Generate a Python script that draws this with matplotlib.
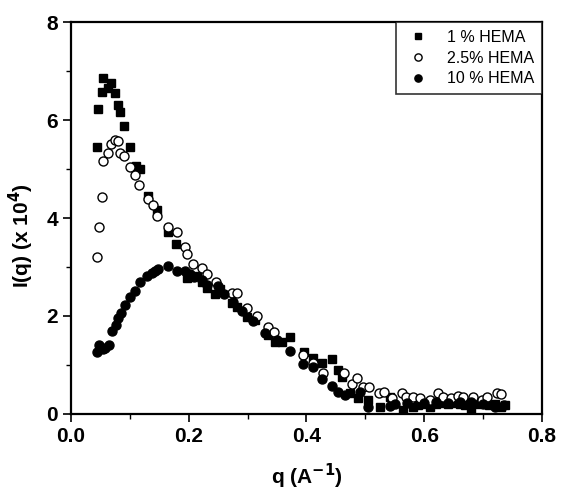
import matplotlib.pyplot as plt
from matplotlib.ticker import MultipleLocator

plt.rcParams['font.family'] = ['Liberation Sans', 'DejaVu Sans']

# 1 % HEMA (filled squares)
q1 = [0.044, 0.046, 0.053, 0.054, 0.063, 0.068, 0.075, 0.080, 0.083, 0.090,
      0.100, 0.110, 0.117, 0.131, 0.146, 0.165, 0.178, 0.197, 0.214, 0.222,
      0.231, 0.245, 0.253, 0.273, 0.282, 0.299, 0.313, 0.335, 0.346, 0.358,
      0.372, 0.396, 0.411, 0.426, 0.443, 0.453, 0.460, 0.474, 0.487, 0.504,
      0.525, 0.542, 0.564, 0.581, 0.59, 0.60, 0.61, 0.62, 0.63, 0.64, 0.65,
      0.66, 0.67, 0.68, 0.69, 0.70, 0.71, 0.72, 0.73, 0.737]
I1 = [5.45, 6.22, 6.57, 6.86, 6.65, 6.76, 6.55, 6.31, 6.16, 5.88,
      5.45, 5.06, 5.00, 4.45, 4.16, 3.71, 3.47, 2.78, 2.82, 2.69,
      2.57, 2.45, 2.55, 2.27, 2.18, 1.98, 1.92, 1.61, 1.47, 1.47,
      1.57, 1.27, 1.14, 1.04, 1.12, 0.90, 0.76, 0.43, 0.33, 0.29,
      0.14, 0.35, 0.08, 0.14, 0.18, 0.20, 0.15, 0.20, 0.22, 0.20, 0.22,
      0.20, 0.18, 0.10, 0.20, 0.22, 0.18, 0.20, 0.15, 0.18]

# 2.5 % HEMA (open circles)
q2 = [0.044, 0.048, 0.053, 0.054, 0.063, 0.068, 0.075, 0.080, 0.083, 0.090,
      0.100, 0.109, 0.115, 0.131, 0.139, 0.146, 0.165, 0.180, 0.194, 0.197,
      0.207, 0.222, 0.231, 0.246, 0.273, 0.282, 0.299, 0.316, 0.335, 0.345,
      0.394, 0.411, 0.428, 0.464, 0.477, 0.486, 0.496, 0.506, 0.523, 0.532,
      0.545, 0.562, 0.569, 0.581, 0.593, 0.61, 0.623, 0.632, 0.645, 0.657,
      0.666, 0.683, 0.698, 0.707, 0.724, 0.73]
I2 = [3.20, 3.82, 4.43, 5.16, 5.33, 5.51, 5.59, 5.57, 5.33, 5.27,
      5.04, 4.88, 4.67, 4.39, 4.27, 4.04, 3.82, 3.71, 3.41, 3.27,
      3.06, 2.98, 2.86, 2.69, 2.47, 2.47, 2.16, 2.00, 1.78, 1.67,
      1.20, 1.04, 0.84, 0.84, 0.61, 0.73, 0.55, 0.55, 0.43, 0.45,
      0.33, 0.43, 0.35, 0.35, 0.33, 0.28, 0.43, 0.35, 0.33, 0.37,
      0.35, 0.35, 0.29, 0.35, 0.43, 0.40]

# 10 % HEMA (filled circles)
q3 = [0.044, 0.048, 0.054, 0.058, 0.065, 0.070, 0.076, 0.080, 0.085, 0.092,
      0.100, 0.109, 0.117, 0.129, 0.138, 0.143, 0.148, 0.165, 0.180, 0.194,
      0.202, 0.209, 0.222, 0.231, 0.250, 0.260, 0.275, 0.290, 0.310, 0.330,
      0.350, 0.372, 0.394, 0.411, 0.426, 0.443, 0.454, 0.465, 0.491, 0.504,
      0.542, 0.55, 0.57, 0.60, 0.62, 0.64, 0.66, 0.68, 0.70, 0.72, 0.735]
I3 = [1.27, 1.41, 1.33, 1.35, 1.41, 1.69, 1.82, 1.96, 2.06, 2.22,
      2.39, 2.51, 2.69, 2.82, 2.88, 2.92, 2.96, 3.02, 2.92, 2.92,
      2.86, 2.80, 2.73, 2.63, 2.61, 2.45, 2.29, 2.10, 1.90, 1.65,
      1.50, 1.29, 1.02, 0.96, 0.71, 0.57, 0.45, 0.39, 0.45, 0.14,
      0.16, 0.20, 0.22, 0.22, 0.25, 0.22, 0.25, 0.25, 0.20, 0.15, 0.18]

fig = plt.figure(figsize=(5.61, 4.91), dpi=100)
ax = fig.add_axes([0.1266, 0.157, 0.8394, 0.798])

ax.plot(q1, I1, 's', color='black', markersize=6, label='1 % HEMA')
ax.plot(q2, I2, 'o', mfc='white', mec='black', mew=1.0, markersize=6.5, label='2.5% HEMA')
ax.plot(q3, I3, 'o', color='black', markersize=6.5, label='10 % HEMA')

ax.set_xlim(0, 0.8)
ax.set_ylim(0, 8)
ax.xaxis.set_major_locator(MultipleLocator(0.2))
ax.xaxis.set_minor_locator(MultipleLocator(0.1))
ax.yaxis.set_major_locator(MultipleLocator(2))
ax.yaxis.set_minor_locator(MultipleLocator(1))
ax.xaxis.set_major_formatter(plt.FormatStrFormatter('%.1f'))
ax.tick_params(which='major', direction='out', length=6, width=1.2, labelsize=15)
ax.tick_params(which='minor', direction='out', length=3.5, width=1.0)
for lab in ax.get_xticklabels() + ax.get_yticklabels():
    lab.set_fontweight('bold')
for s in ax.spines.values():
    s.set_linewidth(1.6)

ax.set_xlabel('q (A$^{\\mathbf{-1}}$)', fontsize=15, fontweight='bold', labelpad=11)
ax.set_ylabel('I(q) (x 10$^{\\mathbf{4}}$)', fontsize=15, fontweight='bold')
ax.yaxis.set_label_coords(-0.075, 0.455)

leg = ax.legend(loc='upper right', borderaxespad=0, fancybox=False, edgecolor='black',
                fontsize=11.5, markerscale=0.8, handletextpad=0.9, labelspacing=0.35,
                borderpad=0.5, handlelength=1.8)
leg.get_frame().set_linewidth(1.2)

fig.savefig('out.png', dpi=100)
